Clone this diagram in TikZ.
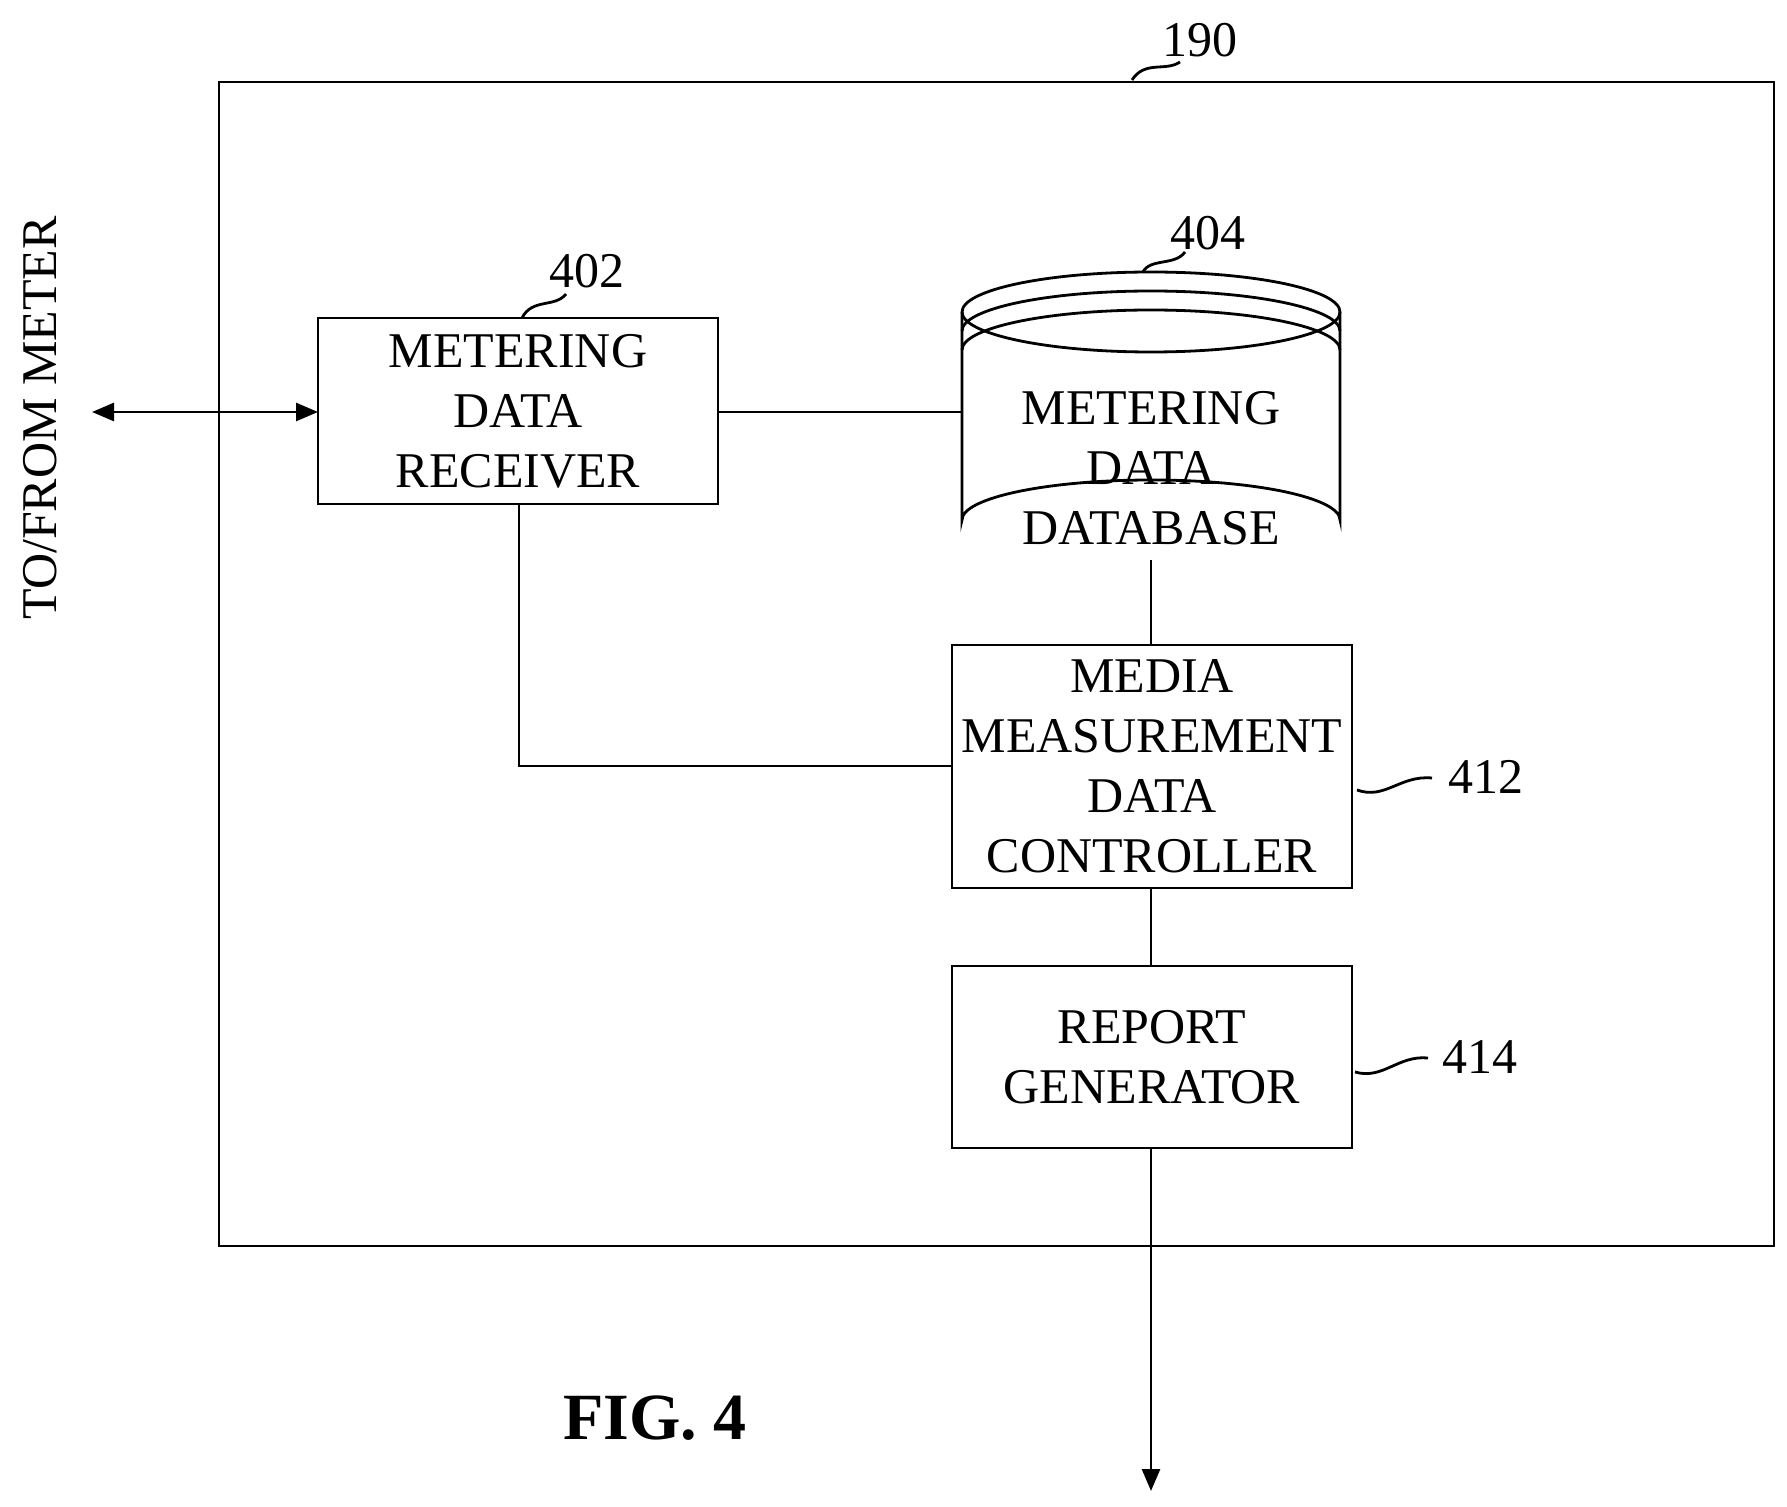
\documentclass[tikz,border=0pt]{standalone}
\usepackage{fontspec}
\setmainfont{Liberation Serif}
\usetikzlibrary{arrows.meta}
\begin{document}
\begin{tikzpicture}[x=0.5pt,y=-0.5pt,line width=1.4pt,
  lbl/.style={font=\fontsize{25}{30}\selectfont,align=center},
  num/.style={font=\fontsize{25}{30}\selectfont},
  arr/.style={-{Triangle[length=11pt,width=9pt]}}]
\useasboundingbox (0,0) rectangle (1787,1507);
\draw (219,82) rectangle (1774,1246);
\node[num] (n190) at (1200,40) {190};
\draw (1132,80) .. controls (1145,60) and (1165,72) .. (1180,62);
% receiver
\draw (318,318) rectangle (718,504);
\node[lbl] (rec) at (518,411) {METERING\\DATA\\RECEIVER};
\coordinate (recW) at (318,412);
\coordinate (recE) at (718,412);
\node[num] (n402) at (587,271) {402};
\draw (522,318) .. controls (532,298) and (555,308) .. (566,294);
% cylinder
\draw (962,312) arc[start angle=180,end angle=0,x radius=189,y radius=40];
\draw (962,312) arc[start angle=180,end angle=360,x radius=189,y radius=40];
\draw (962,331) arc[start angle=180,end angle=360,x radius=189,y radius=40];
\draw (962,350) arc[start angle=180,end angle=360,x radius=189,y radius=40];
\draw (962,312) -- (962,520) arc[start angle=180,end angle=360,x radius=189,y radius=40] -- (1340,312);
\node[lbl] (db) at (1151,468) {METERING\\DATA\\DATABASE};
\coordinate (dbW) at (962,412);
\coordinate (dbS) at (1151,560);
\node[num] (n404) at (1208,233) {404};
\draw (1143,272) .. controls (1150,258) and (1175,266) .. (1185,252);
% controller
\draw (952,645) rectangle (1352,888);
\node[lbl] (ctl) at (1152,766) {MEDIA\\MEASUREMENT\\DATA\\CONTROLLER};
\coordinate (ctlN) at (1151,645);
\coordinate (ctlS) at (1151,888);
\coordinate (ctlW) at (952,766);
\node[num,anchor=west] (n412) at (1440,777) {412};
\draw (1357,790) .. controls (1385,800) and (1400,775) .. (1432,778);
% report
\draw (952,966) rectangle (1352,1148);
\node[lbl] (rep) at (1152,1057) {REPORT\\GENERATOR};
\coordinate (repN) at (1151,966);
\coordinate (repS) at (1151,1148);
\node[num,anchor=west] (n414) at (1434,1057) {414};
\draw (1355,1072) .. controls (1383,1080) and (1398,1055) .. (1428,1058);
% connectors
\coordinate (ext) at (92,412);
\coordinate (out) at (1151,1491);
\draw[{Triangle[length=11pt,width=9pt]}-{Triangle[length=11pt,width=9pt]}] (ext) -- (recW);
\draw (recE) -- (dbW);
\draw (dbS) -- (ctlN);
\draw (ctlS) -- (repN);
\draw[arr] (repS) -- (out);
\draw (519,504) |- (ctlW);
\node[num,rotate=90] (meter) at (40,418) {TO/FROM METER};
\node[font=\bfseries\fontsize{33}{36}\selectfont] (fig) at (655,1418) {FIG. 4};
\end{tikzpicture}
\end{document}
